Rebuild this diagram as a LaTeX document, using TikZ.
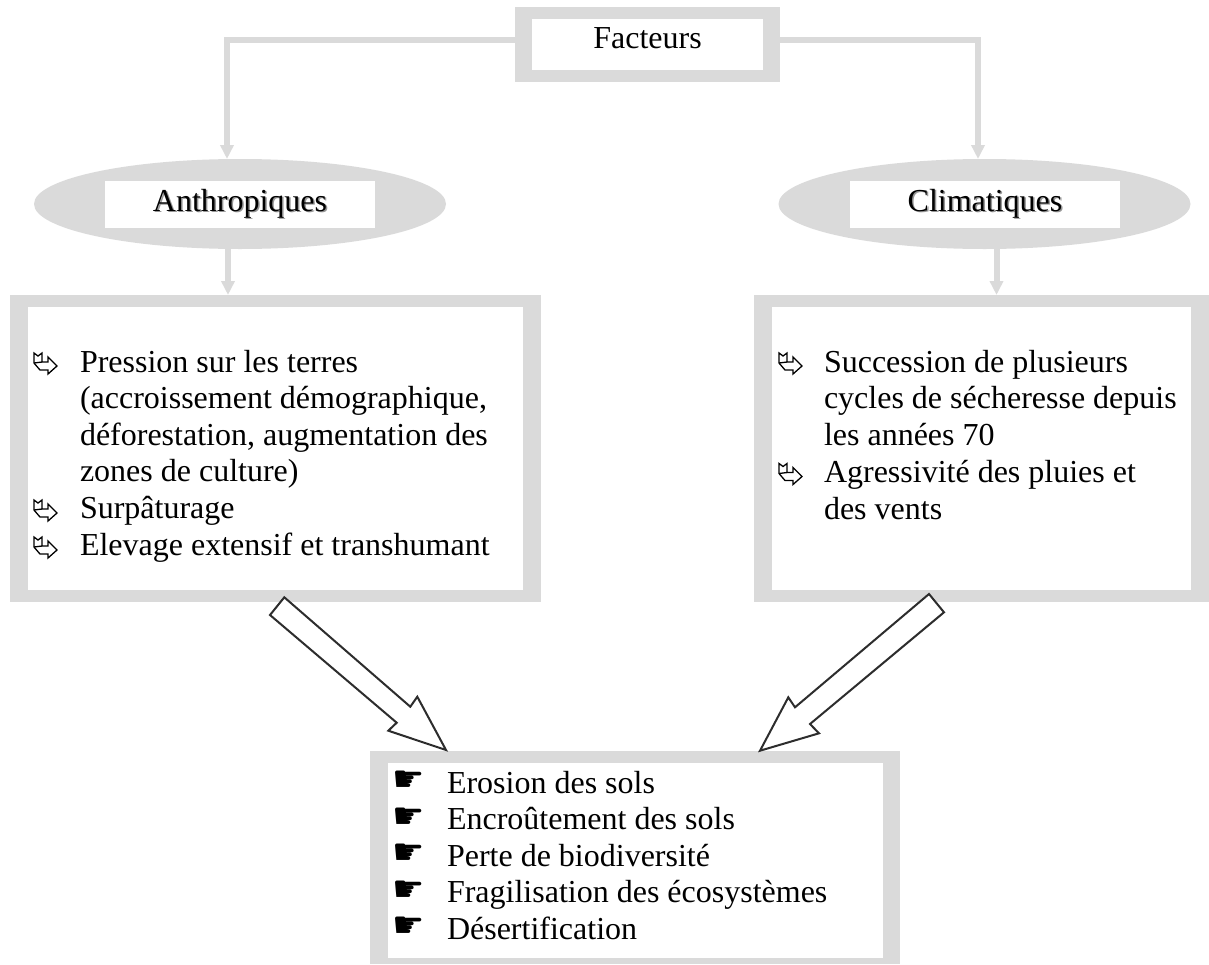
\documentclass[tikz,border=0pt]{standalone}
\usepackage{fontspec}
\setmainfont{Liberation Serif}
\newfontfamily\symfont{DejaVu Sans}
\usetikzlibrary{shapes.geometric,arrows.meta}
\definecolor{framegray}{RGB}{218,218,218}
\definecolor{arrowline}{RGB}{45,45,45}
\definecolor{shadowgray}{RGB}{150,150,150}
\tikzset{
  ribbonbullet/.pic={
    \draw[line width=1.3pt,fill=white,line join=miter]
      (0,0) -- (4,3) -- (8,0) -- (8,9) -- (14,9) -- (14,4) -- (23,13)
      -- (14,21) -- (14,17) -- (6,17) -- (0,10) -- cycle;
    \draw[line width=1.3pt] (0,10) -- (8,9);
  }
}
\begin{document}
\begin{tikzpicture}[x=1pt,y=-1pt,
  every node/.style={inner sep=0pt,outer sep=0pt},
  frameout/.style={rectangle,fill=framegray},
  framein/.style={rectangle,fill=white},
  ell/.style={ellipse,fill=framegray,minimum width=412pt,minimum height=90pt},
  txt/.style={anchor=base west,font=\fontsize{32}{36.6}\selectfont},
  ctxt/.style={anchor=base,font=\fontsize{32}{36.6}\selectfont},
  shad/.style={anchor=base,font=\fontsize{32}{36.6}\selectfont,text=shadowgray},
  hand/.style={anchor=base west,font=\symfont\fontsize{36}{36}\selectfont},
  conn/.style={draw=framegray,line width=6pt,-{Triangle[width=13pt,length=14pt]}},
  hollow/.style={draw=arrowline,line width=2pt,fill=white,line join=miter}
]
\useasboundingbox (0,0) rectangle (1209,964);

% Facteurs
\node[frameout,minimum width=265pt,minimum height=75pt] (factO) at (647.5,44.5) {};
\node[framein,minimum width=231pt,minimum height=51pt] (factI) at (647.5,44.5) {};
\node[ctxt] (factT) at (647.5,48.5) {Facteurs};

% Ellipses
\node[ell] (anthE) at (240,204) {};
\node[framein,minimum width=270pt,minimum height=47pt] (anthR) at (240,204.5) {};
\node[shad] (anthS) at (241.5,212.5) {Anthropiques};
\node[ctxt] (anthT) at (240,211) {Anthropiques};

\node[ell] (climE) at (984.5,204) {};
\node[framein,minimum width=270pt,minimum height=47pt] (climR) at (985,204.5) {};
\node[shad] (climS) at (986.5,212.5) {Climatiques};
\node[ctxt] (climT) at (985,211) {Climatiques};

% Boxes
\node[frameout,minimum width=531pt,minimum height=307pt] (lboxO) at (275.5,448.5) {};
\node[framein,minimum width=495pt,minimum height=283pt] (lboxI) at (275.5,448.5) {};
\node[frameout,minimum width=455pt,minimum height=307pt] (rboxO) at (981.5,448.5) {};
\node[framein,minimum width=419pt,minimum height=283pt] (rboxI) at (981.5,448.5) {};
\node[frameout,minimum width=530pt,minimum height=213pt] (bboxO) at (635,857.5) {};
\node[framein,minimum width=495pt,minimum height=195pt] (bboxI) at (635.5,860.5) {};

% Connectors
\draw[conn] ([yshift=4.5pt]factO.west) -| ([xshift=-13pt]anthE.north);
\draw[conn] ([yshift=4.5pt]factO.east) -| ([xshift=-6.5pt]climE.north);
\draw[conn] ([xshift=-12pt]anthE.south) -- ([xshift=-12pt]anthE.south |- lboxO.north);
\draw[conn] ([xshift=12pt]climE.south) -- ([xshift=12pt]climE.south |- rboxO.north);

% Hollow arrows
\draw[hollow] (284.3,597.3) -- (410.3,706.7) -- (417.3,696.7) -- (446,750)
  -- (388.3,730.7) -- (396.7,722.7) -- (270,615) -- cycle;
\draw[hollow] (929,594) -- (795,707.3) -- (788.3,697.3) -- (760,750.7)
  -- (819,733.3) -- (810,724) -- (944,612.3) -- cycle;

% Left box text
\pic at (34,353) {ribbonbullet};
\node[txt] (l1) at (80,372) {Pression sur les terres};
\node[txt] (l2) at (80,408.6) {(accroissement démographique,};
\node[txt] (l3) at (80,445.2) {déforestation, augmentation des};
\node[txt] (l4) at (80,481.8) {zones de culture)};
\pic at (34,500) {ribbonbullet};
\node[txt] (l5) at (80,518.6) {Surpâturage};
\pic at (34,537) {ribbonbullet};
\node[txt] (l6) at (80,555.6) {Elevage extensif et transhumant};

% Right box text
\pic at (779,353) {ribbonbullet};
\node[txt] (r1) at (824,372) {Succession de plusieurs};
\node[txt] (r2) at (824,408.6) {cycles de sécheresse depuis};
\node[txt] (r3) at (824,445.2) {les années 70};
\pic at (779,463.5) {ribbonbullet};
\node[txt] (r4) at (824,482.5) {Agressivité des pluies et};
\node[txt] (r5) at (824,519) {des vents};

% Bottom box text
\node[hand] (h1) at (392,791.5) {☛};
\node[txt] (b1) at (447,793) {Erosion des sols};
\node[hand] (h2) at (392,828.1) {☛};
\node[txt] (b2) at (447,829.6) {Encroûtement des sols};
\node[hand] (h3) at (392,864.7) {☛};
\node[txt] (b3) at (447,866.2) {Perte de biodiversité};
\node[hand] (h4) at (392,901.3) {☛};
\node[txt] (b4) at (447,902.8) {Fragilisation des écosystèmes};
\node[hand] (h5) at (392,937.9) {☛};
\node[txt] (b5) at (447,939.4) {Désertification};
\end{tikzpicture}
\end{document}
